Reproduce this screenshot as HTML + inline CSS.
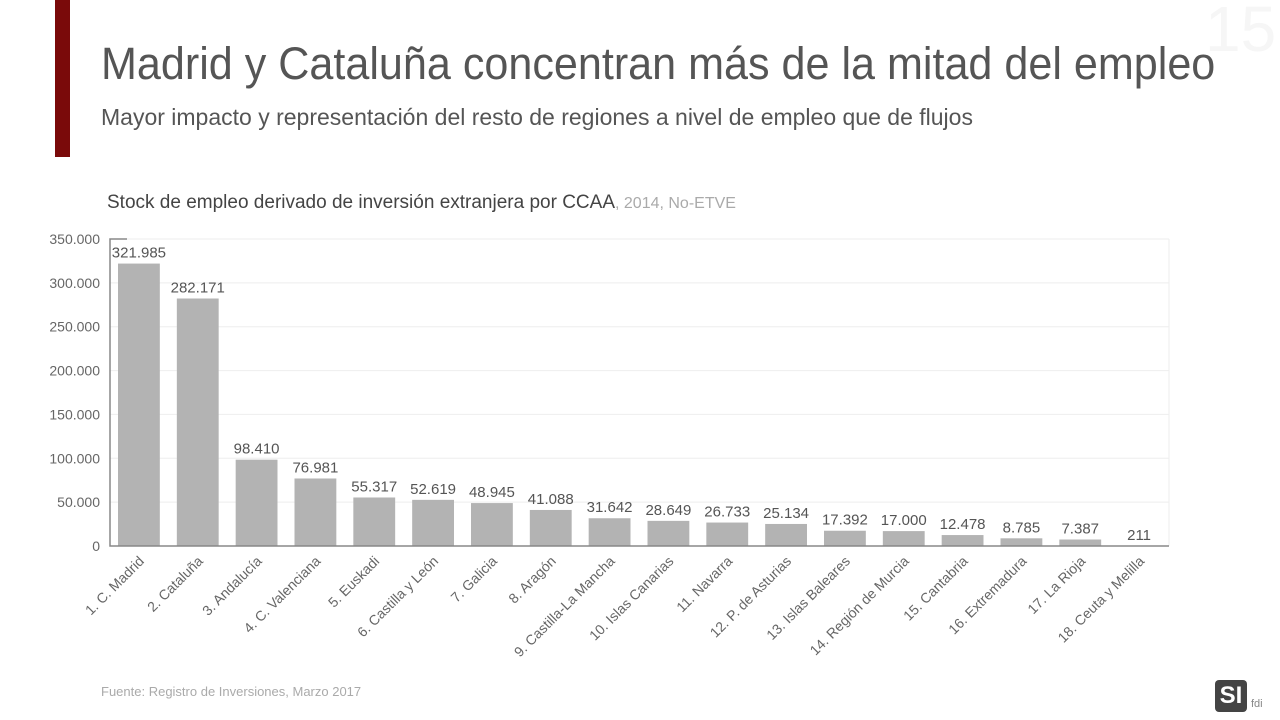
<!DOCTYPE html>
<html><head><meta charset="utf-8"><style>
body{margin:0;width:1280px;height:720px;background:#fff;overflow:hidden;position:relative;font-family:"Liberation Sans",sans-serif;}
.abs{position:absolute}
</style></head><body>
<div class="abs" style="left:55px;top:0;width:15px;height:157px;background:#7a0a0a"></div>
<div class="abs" style="left:1205px;top:-8px;font-size:64px;color:#f6f6f6">15</div>
<div class="abs" style="left:101px;top:38px;font-size:45px;color:#555;white-space:nowrap;transform:scaleX(0.958);transform-origin:0 0">Madrid y Cataluña concentran más de la mitad del empleo</div>
<div class="abs" style="left:101px;top:104px;font-size:23px;color:#555;white-space:nowrap">Mayor impacto y representación del resto de regiones a nivel de empleo que de flujos</div>
<div class="abs" style="left:107px;top:192px;font-size:19px;color:#444;white-space:nowrap">Stock de empleo derivado de inversión extranjera por CCAA<span style="color:#aaa;font-size:16px">, 2014, No-ETVE</span></div>
<div class="abs" style="left:101px;top:684px;font-size:13px;color:#aaa">Fuente: Registro de Inversiones, Marzo 2017</div>
<div class="abs" style="left:1215px;top:680px;width:32px;height:32px;background:#444;border-radius:4px;color:#fff;font-size:24px;font-weight:bold;text-align:center;line-height:32px">SI</div>
<div class="abs" style="left:1251px;top:698px;font-size:11px;color:#888">fdi</div>
<svg class="abs" style="left:0;top:0" width="1280" height="720">
<g id="g"></g></svg>
<script>
const categories=["1. C. Madrid","2. Cataluña","3. Andalucía","4. C. Valenciana","5. Euskadi","6. Castilla y León","7. Galicia","8. Aragón","9. Castilla-La Mancha","10. Islas Canarias","11. Navarra","12. P. de Asturias","13. Islas Baleares","14. Región de Murcia","15. Cantabria","16. Extremadura","17. La Rioja","18. Ceuta y Melilla"];
const values=[321985,282171,98410,76981,55317,52619,48945,41088,31642,28649,26733,25134,17392,17000,12478,8785,7387,211];
const ticks=[0,50000,100000,150000,200000,250000,300000,350000];
const x0=110,x1=1169,y0=546,yTop=239,yMax=350000;
const band=(x1-x0)/categories.length;
const ys=v=>y0-(v/yMax)*(y0-yTop);
const xs=i=>x0+i*band;
const fmt=v=>v.toLocaleString('de-DE');
const g=document.getElementById('g');
const NS='http://www.w3.org/2000/svg';
function mk(t,a,txt){const e=document.createElementNS(NS,t);for(const k in a)e.setAttribute(k,a[k]);if(txt!==undefined)e.textContent=txt;g.appendChild(e);return e;}
ticks.forEach(t=>{
 if(t>0){const l=mk('line',{x1:x0,x2:x1,y1:ys(t),y2:ys(t),stroke:'#eee'});
 
 }
 const tl=mk('text',{x:100,y:ys(t)+5,'text-anchor':'end','font-size':14,fill:'#666','font-family':'Liberation Sans'},fmt(t));
 
 
});
const rb=mk('line',{x1:x1,x2:x1,y1:yTop,y2:y0,stroke:'#eee'});


values.forEach((v,i)=>{
 const bx=xs(i)+8,bw=band-17;
 const r=mk('rect',{x:bx,y:ys(v),width:bw,height:y0-ys(v),fill:'#b3b3b3'});
 
 
 const vl=mk('text',{x:bx+bw/2,y:ys(v)-6,'text-anchor':'middle','font-size':15,fill:'#555','font-family':'Liberation Sans'},fmt(v));
 
 
 const cx=bx+bw/2+6,cy=y0+16;
 const cl=mk('text',{x:cx,y:cy,'text-anchor':'end','font-size':14,fill:'#666','font-family':'Liberation Sans',transform:`rotate(-45 ${cx} ${cy})`},categories[i]);
 
 
});
const ax=mk('path',{d:`M${x0+17} ${yTop}H${x0}V${y0}H${x1}`,fill:'none',stroke:'#888','stroke-width':1.5});


</script>
</body></html>
